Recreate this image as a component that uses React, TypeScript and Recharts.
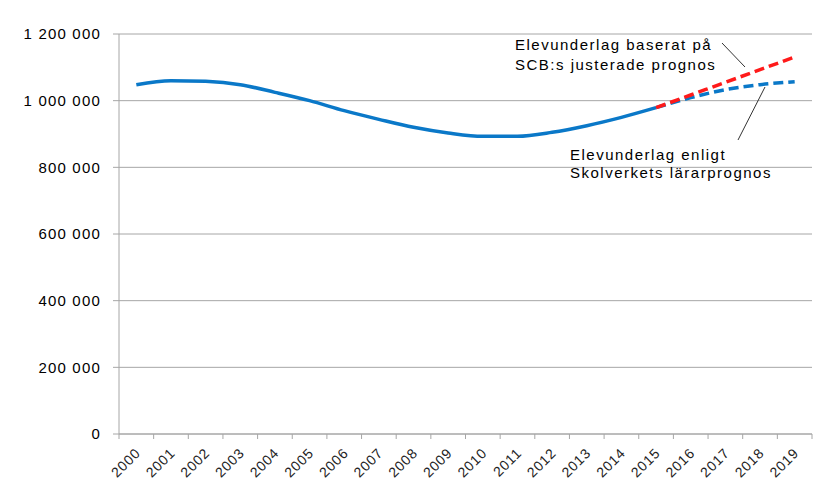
import { LineChart, Line, XAxis, YAxis, CartesianGrid, Customized } from 'recharts';

const years = ['2000', '2001', '2002', '2003', '2004', '2005', '2006', '2007', '2008', '2009', '2010', '2011', '2012', '2013', '2014', '2015', '2016', '2017', '2018', '2019'];
const actual = [1048000, 1060000, 1058000, 1048000, 1025000, 1000000, 970000, 944000, 920000, 903000, 893000, 893000, 905000, 925000, 950000, 979000, null, null, null, null];
const scbForecast = [null, null, null, null, null, null, null, null, null, null, null, null, null, null, null, 979000, 1017000, 1055000, 1093000, 1131000];
const skolverketForecast = [null, null, null, null, null, null, null, null, null, null, null, null, null, null, null, 979000, 1009000, 1033000, 1048000, 1057000];
const yTicks = [0, 200000, 400000, 600000, 800000, 1000000, 1200000];

const data = years.map((year, i) => ({
  year,
  actual: actual[i],
  scb: scbForecast[i],
  skolverket: skolverketForecast[i],
}));

const W = 829;
const H = 499;
const yAxisWidth = 119;
const xAxisHeight = 65;
const margin = { top: 34, right: 17, bottom: 0, left: 0 };
const bandWidth = (W - yAxisWidth - margin.right) / years.length;
const font = '"Liberation Sans", Arial, sans-serif';
const blue = '#0a78c8';
const red = '#ff1a1a';
const axisGrey = '#a6a6a6';

function formatNumber(v: number): string {
  return String(v).replace(/\B(?=(\d{3})+(?!\d))/g, ' ');
}

function YearTick(props: any) {
  const { x, y, payload, index } = props;
  const left = x - bandWidth / 2;
  const tx = x + 5;
  const ty = y + 20;
  return (
    <g>
      <line x1={left} y1={y} x2={left} y2={y + 5} stroke={axisGrey} />
      {index === years.length - 1 && (
        <line x1={x + bandWidth / 2} y1={y} x2={x + bandWidth / 2} y2={y + 5} stroke={axisGrey} />
      )}
      <text
        x={tx}
        y={ty}
        textAnchor="end"
        transform={`rotate(-45 ${tx} ${ty})`}
        fontSize={14}
        fontFamily={font}
        letterSpacing={0.8}
        fill="#222"
      >
        {payload.value}
      </text>
    </g>
  );
}

function Notes() {
  const t = { fontSize: 15, fontFamily: font, fill: '#000', letterSpacing: 1.5 };
  return (
    <g>
      <text x={515} y={50} {...t}>Elevunderlag baserat på</text>
      <text x={515} y={70} {...t}>SCB:s justerade prognos</text>
      <line x1={722} y1={43} x2={745} y2={67} stroke="#333" />
      <text x={570} y={160} {...t}>Elevunderlag enligt</text>
      <text x={570} y={178} {...t}>Skolverkets lärarprognos</text>
      <line x1={765} y1={87} x2={738} y2={140} stroke="#333" />
    </g>
  );
}

export default function App() {
  return (
    <div style={{ position: 'absolute', left: 0, top: 0, width: W, height: H, background: '#fff' }}>
      <LineChart width={W} height={H} data={data} margin={margin}>
        <CartesianGrid vertical={false} stroke={axisGrey} strokeWidth={1} />
        <XAxis
          dataKey="year"
          scale="band"
          height={xAxisHeight}
          stroke={axisGrey}
          tickLine={false}
          tickSize={0}
          tickMargin={0}
          tick={<YearTick />}
          interval={0}
        />
        <YAxis
          domain={[0, 1200000]}
          ticks={yTicks}
          stroke={axisGrey}
          tickSize={6}
          tickMargin={12}
          tickFormatter={formatNumber}
          tick={{ fontSize: 15, fontFamily: font, fill: '#000', letterSpacing: 1.2 }}
          width={yAxisWidth}
          interval={0}
        />
        <Line
          type="monotone"
          dataKey="actual"
          stroke={blue}
          strokeWidth={3.5}
          dot={false}
          activeDot={false}
          isAnimationActive={false}
        />
        <Line
          type="monotone"
          dataKey="skolverket"
          stroke={blue}
          strokeWidth={3.5}
          strokeDasharray="10 5"
          dot={false}
          activeDot={false}
          isAnimationActive={false}
        />
        <Line
          type="monotone"
          dataKey="scb"
          stroke={red}
          strokeWidth={3.5}
          strokeDasharray="10 5"
          dot={false}
          activeDot={false}
          isAnimationActive={false}
        />
        <Customized component={<Notes />} />
      </LineChart>
    </div>
  );
}
